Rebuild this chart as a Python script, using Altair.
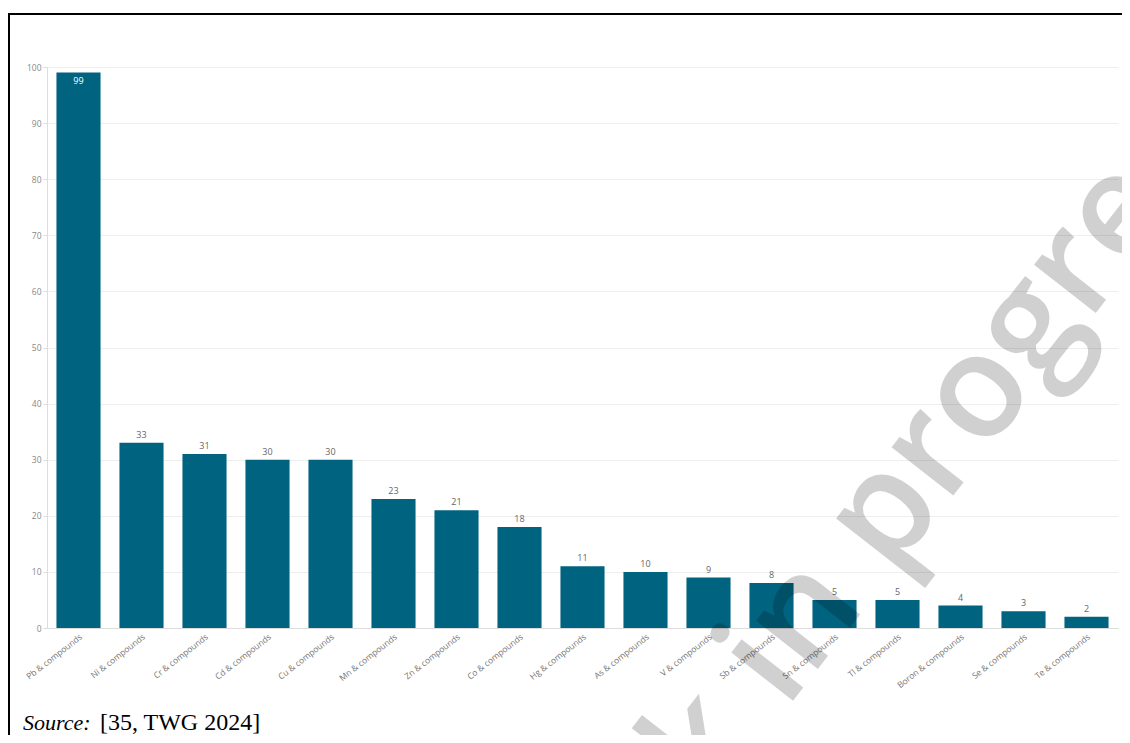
import altair as alt
import pandas as pd

categories = ["Pb & compounds", "Ni & compounds", "Cr & compounds", "Cd & compounds",
              "Cu & compounds", "Mn & compounds", "Zn & compounds", "Co & compounds",
              "Hg & compounds", "As & compounds", "V & compounds", "Sb & compounds",
              "Sn & compounds", "Tl & compounds", "Boron & compounds", "Se & compounds",
              "Te & compounds"]
values = [99, 33, 31, 30, 30, 23, 21, 18, 11, 10, 9, 8, 5, 5, 4, 3, 2]
y_ticks = [0, 10, 20, 30, 40, 50, 60, 70, 80, 90, 100]
source_label = "Source:"
source_ref = "[35, TWG 2024]"
watermark = "Work in progress"

df = pd.DataFrame({"cat": categories, "val": values})
one = pd.DataFrame({"k": [0]})

BAR = "#006380"
FONT = "Open Sans"

x_enc = alt.X("cat:N", sort=categories, title=None,
              scale=alt.Scale(paddingInner=0.3, paddingOuter=0.15),
              axis=alt.Axis(labelAngle=322, labelFontSize=8.5, labelColor="#777",
                            labelFont=FONT, domainColor="#ddd", ticks=False,
                            grid=False, labelPadding=4, labelAlign="right",
                            labelBaseline="top"))
y_enc = alt.Y("val:Q", title=None, scale=alt.Scale(domain=[0, 100], nice=False),
              axis=alt.Axis(values=y_ticks, labelFontSize=8.5, labelColor="#888",
                            labelFont=FONT, tickColor="#ddd", tickSize=4,
                            domainColor="#ddd", gridColor="#eeeeee",
                            labelPadding=2))

base = alt.Chart(df)
bars = base.mark_bar(color=BAR).encode(x=x_enc, y=y_enc)

labels_out = base.transform_filter("datum.val < 90").mark_text(
    dy=-3, baseline="bottom", fontSize=9, color="#666", font=FONT
).encode(x=alt.X("cat:N", sort=categories), y="val:Q", text="val:Q")

labels_in = base.transform_filter("datum.val >= 90").mark_text(
    dy=4, baseline="top", fontSize=9, color="white", font=FONT
).encode(x=alt.X("cat:N", sort=categories), y="val:Q", text="val:Q")

ann = alt.Chart(one)
wm = ann.mark_text(angle=308, fontSize=145, fontWeight=600, font=FONT,
                   color="black", opacity=0.18, align="center",
                   baseline="middle").encode(
    x=alt.value(818), y=alt.value(470), text=alt.value(watermark))

border_top = ann.mark_rule(color="black", strokeWidth=2).encode(
    x=alt.value(-39), x2=alt.value(1090), y=alt.value(-53))
border_left = ann.mark_rule(color="black", strokeWidth=2).encode(
    x=alt.value(-38), y=alt.value(-54), y2=alt.value(720))

src1 = ann.mark_text(font="Liberation Serif", fontStyle="italic", fontSize=22,
                     color="black", align="left", baseline="alphabetic").encode(
    x=alt.value(-24), y=alt.value(663), text=alt.value(source_label))
src2 = ann.mark_text(font="Liberation Serif", fontSize=24,
                     color="black", align="left", baseline="alphabetic").encode(
    x=alt.value(53), y=alt.value(663), text=alt.value(source_ref))

chart = alt.layer(bars, labels_out, labels_in, border_top, border_left,
                  src1, src2, wm).properties(
    width=1071, height=561,
    autosize=alt.AutoSizeParams(type="none"),
    padding={"left": 39, "top": 59, "right": 4, "bottom": 107},
).configure_view(stroke=None)

chart.save("out.html", embed_options={"renderer": "svg", "actions": False})
